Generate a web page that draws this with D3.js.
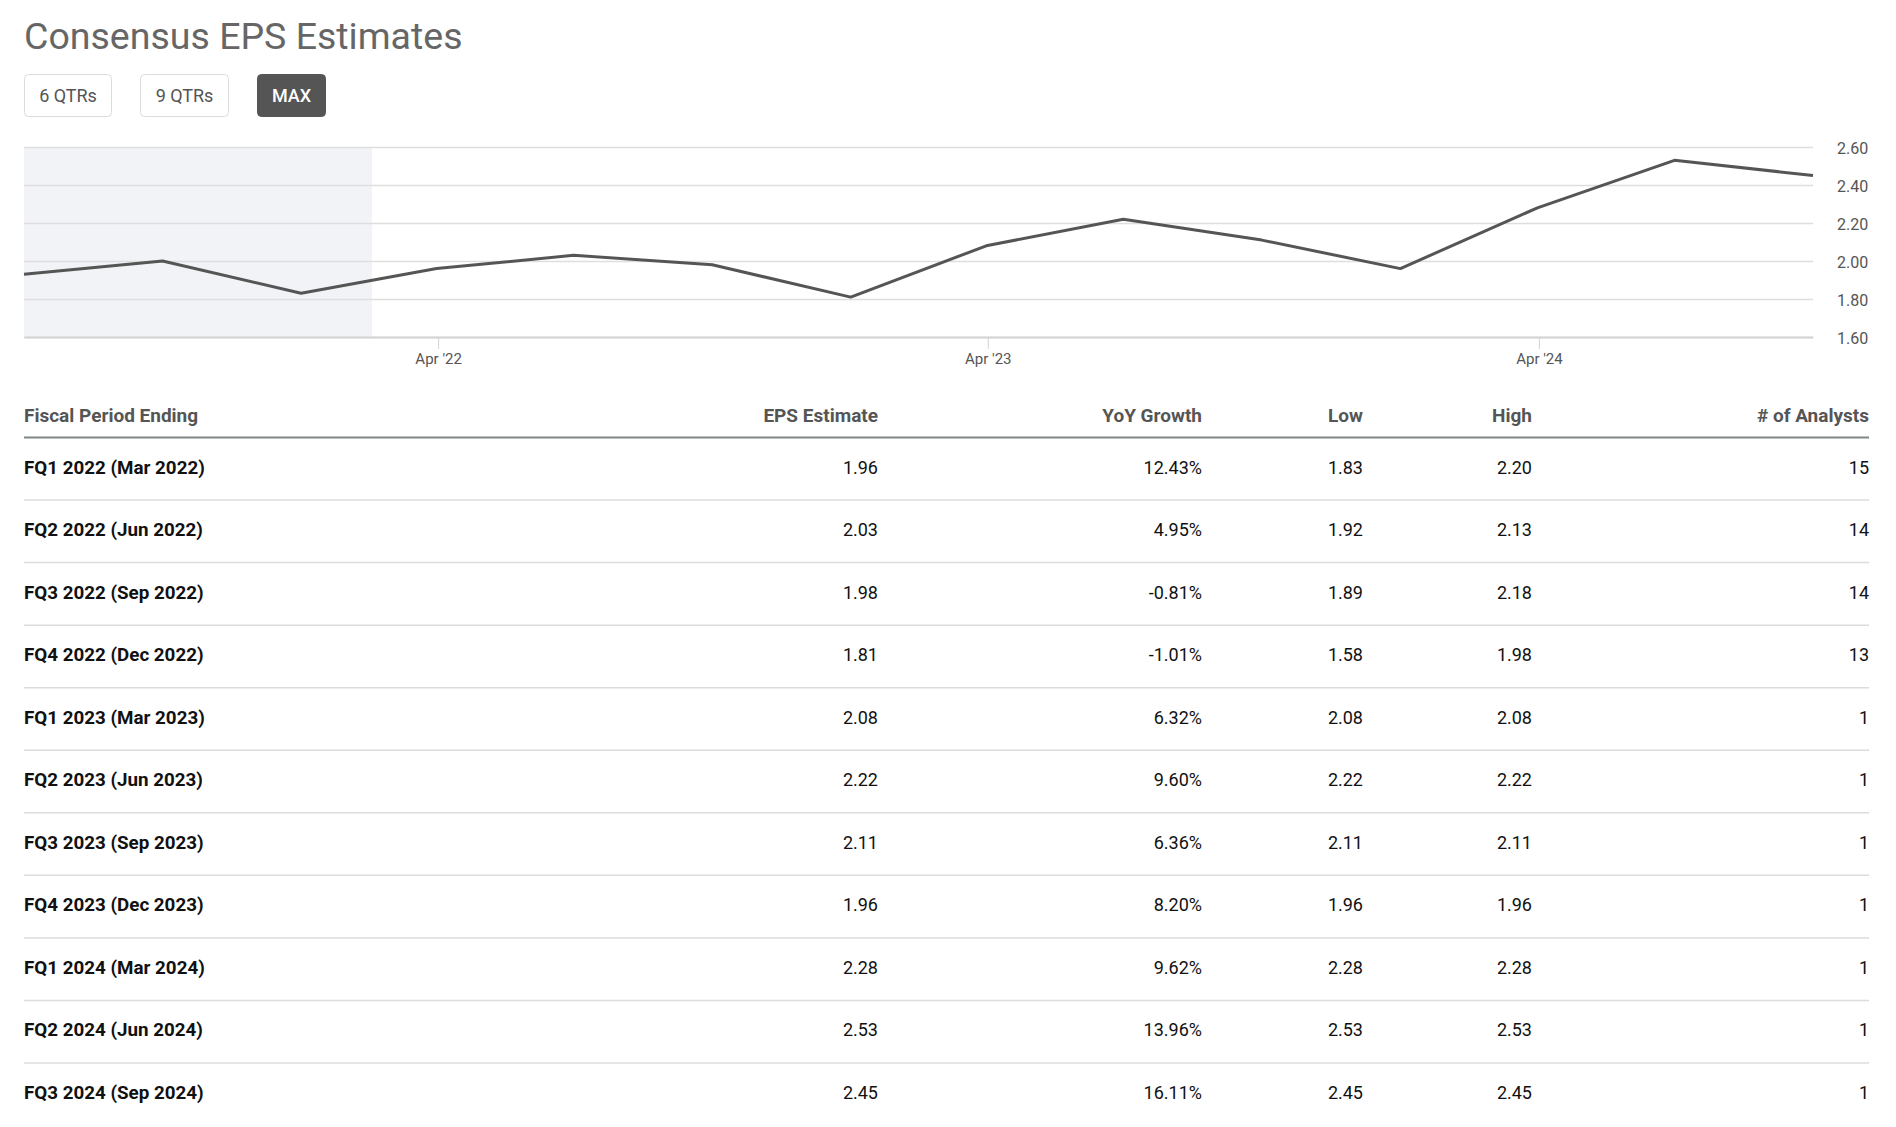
<html>
<head>
  <script src="https://d3js.org/d3.v7.min.js"></script>
  <style>
    body { margin: 0; background: #fff; }
    svg { display: block; font-family: Roboto, "Noto Sans", sans-serif; }
  </style>
</head>
<body>
<script type="text/javascript">
  // data
  var quarterEnds = ["2021-06-30","2021-09-30","2021-12-31","2022-03-31","2022-06-30","2022-09-30",
                     "2022-12-31","2023-03-31","2023-06-30","2023-09-30","2023-12-31","2024-03-31",
                     "2024-06-30","2024-09-30"];
  var pastValues = [1.93, 2.00, 1.83];
  var fiscalPeriods = ["FQ1 2022 (Mar 2022)","FQ2 2022 (Jun 2022)","FQ3 2022 (Sep 2022)","FQ4 2022 (Dec 2022)",
                       "FQ1 2023 (Mar 2023)","FQ2 2023 (Jun 2023)","FQ3 2023 (Sep 2023)","FQ4 2023 (Dec 2023)",
                       "FQ1 2024 (Mar 2024)","FQ2 2024 (Jun 2024)","FQ3 2024 (Sep 2024)"];
  var epsEstimate = [1.96, 2.03, 1.98, 1.81, 2.08, 2.22, 2.11, 1.96, 2.28, 2.53, 2.45];
  var yoyGrowth = ["12.43%","4.95%","-0.81%","-1.01%","6.32%","9.60%","6.36%","8.20%","9.62%","13.96%","16.11%"];
  var lowEst = [1.83, 1.92, 1.89, 1.58, 2.08, 2.22, 2.11, 1.96, 2.28, 2.53, 2.45];
  var highEst = [2.20, 2.13, 2.18, 1.98, 2.08, 2.22, 2.11, 1.96, 2.28, 2.53, 2.45];
  var analysts = [15, 14, 14, 13, 1, 1, 1, 1, 1, 1, 1];
  var yTicks = [1.6, 1.8, 2.0, 2.2, 2.4, 2.6];
  var xTicks = ["2022-04-01","2023-04-01","2024-04-01"];
  var shadeEnd = "2022-02-16";
  var ranges = ["6 QTRs","9 QTRs","MAX"];
  var headers = ["Fiscal Period Ending","EPS Estimate","YoY Growth","Low","High","# of Analysts"];

  var width = 1896, height = 1127;
  var parse = d3.timeParse("%Y-%m-%d");
  var plotL = 24, plotR = 1813, plotT = 147, plotB = 337;

  var svg = d3.select("body").append("svg")
      .attr("width", width)
      .attr("height", height);

  // title
  svg.append("text")
     .attr("x", 24).attr("y", 49)
     .attr("fill", "#666")
     .style("font-size", "37.5px")
     .text("Consensus EPS Estimates");

  // range buttons
  var btnX = [24, 140, 257], btnW = [87, 88, 68];
  var btn = svg.selectAll(".btn")
     .data(ranges)
     .enter().append("g")
     .attr("class", "btn")
     .attr("transform", function(d, i){ return "translate(" + (btnX[i] + 0.5) + ",74.5)"; });
  btn.append("rect")
     .attr("width", function(d, i){ return btnW[i]; })
     .attr("height", 42)
     .attr("rx", 4)
     .attr("fill", function(d){ return d == "MAX" ? "#555" : "#fff"; })
     .attr("stroke", function(d){ return d == "MAX" ? "#555" : "#dcdcdc"; });
  btn.append("text")
     .attr("x", function(d, i){ return btnW[i] / 2; })
     .attr("y", 27)
     .attr("text-anchor", "middle")
     .attr("fill", function(d){ return d == "MAX" ? "#fff" : "#555"; })
     .style("font-size", "18px")
     .style("font-weight", function(d){ return d == "MAX" ? 500 : 400; })
     .text(function(d){ return d; });

  // scales
  var dates = quarterEnds.map(parse);
  var values = pastValues.concat(epsEstimate);
  var xScale = d3.scaleTime()
      .domain(d3.extent(dates))
      .range([plotL, plotR]);
  var yScale = d3.scaleLinear()
      .domain([1.6, 2.6])
      .range([plotB, plotT]);

  // shaded past area
  svg.append("rect")
     .attr("x", plotL)
     .attr("y", plotT)
     .attr("width", xScale(parse(shadeEnd)) - plotL)
     .attr("height", plotB - plotT)
     .attr("fill", "#f2f3f7");

  // y axis on the right, with grid
  var yAxis = d3.axisRight(yScale)
      .tickValues(yTicks)
      .tickFormat(d3.format(".2f"))
      .tickSize(-(plotR - plotL))
      .tickPadding(24);
  var gy = svg.append("g")
     .attr("transform", "translate(" + plotR + ",0)")
     .call(yAxis);
  gy.select(".domain").remove();
  gy.selectAll("line").attr("stroke", "#dedede").attr("stroke-width", 1.5);
  gy.selectAll("text")
    .attr("fill", "#555")
    .attr("dy", "0.4em")
    .style("font-size", "16px")
    .style("font-family", "Roboto");

  // x axis
  var xAxis = d3.axisBottom(xScale)
      .tickValues(xTicks.map(parse))
      .tickFormat(d3.timeFormat("%b '%y"))
      .tickSize(12)
      .tickSizeOuter(0)
      .tickPadding(4);
  var gx = svg.append("g")
     .attr("transform", "translate(0," + plotB + ")")
     .call(xAxis);
  gx.select(".domain").attr("stroke", "#d4d4d4").attr("stroke-width", 2);
  gx.selectAll("line").attr("stroke", "#d4d4d4");
  gx.selectAll("text")
    .attr("fill", "#555")
    .style("font-size", "15px")
    .style("font-family", "Roboto");

  // line
  var line = d3.line()
      .x(function(d, i){ return xScale(dates[i]); })
      .y(function(d){ return yScale(d); });
  svg.append("path")
     .datum(values)
     .attr("d", line)
     .attr("fill", "none")
     .attr("stroke", "#555")
     .attr("stroke-width", 3)
     .attr("stroke-linejoin", "round");

  // table
  var tableR = 1869;
  var colRight = [null, 878, 1202, 1363, 1532, tableR];
  var headY = 422, ruleY = 437.5, rowH = 62.55;

  svg.selectAll(".head")
     .data(headers)
     .enter().append("text")
     .attr("class", "head")
     .attr("x", function(d, i){ return i == 0 ? plotL : colRight[i]; })
     .attr("y", headY)
     .attr("text-anchor", function(d, i){ return i == 0 ? "start" : "end"; })
     .attr("fill", "#555")
     .style("font-size", "19px")
     .style("font-weight", "bold")
     .text(function(d){ return d; });

  svg.append("line")
     .attr("x1", plotL).attr("x2", tableR)
     .attr("y1", ruleY).attr("y2", ruleY)
     .attr("stroke", "#7f8787")
     .attr("stroke-width", 2);

  var rows = svg.selectAll(".row")
     .data(fiscalPeriods)
     .enter().append("g")
     .attr("class", "row")
     .attr("transform", function(d, i){ return "translate(0," + (ruleY + i * rowH) + ")"; });

  rows.filter(function(d, i){ return i < fiscalPeriods.length - 1; })
     .append("line")
     .attr("x1", plotL).attr("x2", tableR)
     .attr("y1", rowH).attr("y2", rowH)
     .attr("stroke", "#dcdcdc")
     .attr("stroke-width", 1.5);

  rows.append("text")
     .attr("x", plotL)
     .attr("y", 36)
     .attr("fill", "#111")
     .style("font-size", "18.8px")
     .style("font-weight", "bold")
     .text(function(d){ return d; });

  var cells = rows.selectAll(".cell")
     .data(function(d, i){
       return [epsEstimate[i].toFixed(2), yoyGrowth[i], lowEst[i].toFixed(2), highEst[i].toFixed(2), analysts[i]];
     })
     .enter().append("text")
     .attr("class", "cell")
     .attr("x", function(d, j){ return colRight[j + 1]; })
     .attr("y", 36)
     .attr("text-anchor", "end")
     .attr("fill", "#111")
     .style("font-size", "18px")
     .text(function(d){ return d; });
</script>
</body>
</html>
